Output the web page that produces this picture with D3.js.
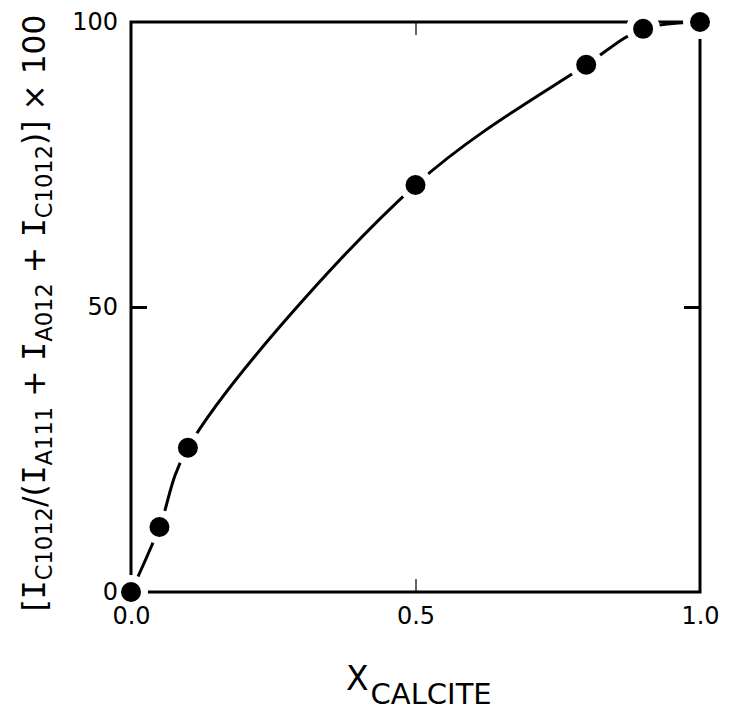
<!DOCTYPE html>
<html>
<head>
<meta charset="utf-8">
<script src="https://cdn.jsdelivr.net/npm/d3@7"></script>
<style>
  body { margin: 0; background: #fff; }
  text { font-family: "DejaVu Sans", sans-serif; fill: #000; }
</style>
</head>
<body>
<script>
(function () {
  "use strict";
  var w = 729,
      h = 717;

  // mole fraction of calcite and relative intensity (%)
  var xCalcite = [0, 0.05, 0.1, 0.5, 0.8, 0.9, 1.0];
  var intensity = [0, 11.4, 25.3, 71.4, 92.5, 98.8, 100];
  var xTicks = [0, 0.5, 1.0];
  var xTickLabels = ["0.0", "0.5", "1.0"];
  var yTicks = [0, 50, 100];
  var yTickLabels = ["0", "50", "100"];

  var left = 131, right = 700, top = 22, bottom = 592;

  var x = d3.scaleLinear().domain([0, 1]).range([left, right]);
  var y = d3.scaleLinear().domain([0, 100]).range([bottom, top]);

  var data = xCalcite.map((d, i) => [d, intensity[i]]);

  var svg = d3.select("body")
              .append("svg")
              .attr("width", w)
              .attr("height", h);

  // frame
  svg.append("rect")
     .attr("x", left)
     .attr("y", top)
     .attr("width", right - left)
     .attr("height", bottom - top)
     .attr("fill", "none")
     .attr("stroke", "#000")
     .attr("stroke-width", 3);

  // curve
  var line = d3.line()
               .x(d => x(d[0]))
               .y(d => y(d[1]))
               .curve(d3.curveCatmullRom.alpha(0.5));
  svg.append("path")
     .datum(data)
     .attr("d", line)
     .attr("fill", "none")
     .attr("stroke", "#000")
     .attr("stroke-width", 3);

  // white gaps round the points
  svg.selectAll("circle.halo")
     .data(data)
     .enter()
     .append("circle")
     .attr("class", "halo")
     .attr("cx", d => x(d[0]))
     .attr("cy", d => y(d[1]))
     .attr("r", 17)
     .attr("fill", "#fff");

  svg.selectAll("circle.dot")
     .data(data)
     .enter()
     .append("circle")
     .attr("class", "dot")
     .attr("cx", d => x(d[0]))
     .attr("cy", d => y(d[1]))
     .attr("r", 10)
     .attr("fill", "#000");

  // axes on top, only the inner ticks that show in the figure
  var xAxis = svg.append("g")
     .attr("transform", "translate(0," + bottom + ")")
     .call(d3.axisBottom(x).tickValues(xTicks)
             .tickFormat((d, i) => xTickLabels[i])
             .tickSize(-13).tickPadding(15));
  var yAxis = svg.append("g")
     .attr("transform", "translate(" + left + ",0)")
     .call(d3.axisLeft(y).tickValues(yTicks)
             .tickFormat((d, i) => yTickLabels[i])
             .tickSize(-16).tickPadding(13));
  var yRight = svg.append("g")
     .attr("transform", "translate(" + right + ",0)")
     .call(d3.axisRight(y).tickValues([50]).tickFormat("").tickSize(-16));
  var xTop = svg.append("g")
     .attr("transform", "translate(0," + top + ")")
     .call(d3.axisTop(x).tickValues([0.5]).tickFormat("").tickSize(-13));

  [xAxis, yAxis, yRight, xTop].forEach(function (g) {
    g.select(".domain").remove();
    g.selectAll("text")
     .attr("font-family", "DejaVu Sans")
     .attr("font-size", 24)
     .attr("fill", "#000");
  });
  xAxis.selectAll(".tick").filter(d => d !== 0.5).select("line").remove();
  yAxis.selectAll(".tick").filter(d => d !== 50).select("line").remove();
  yAxis.selectAll("line").attr("stroke-width", 3);
  yRight.selectAll("line").attr("stroke-width", 3);
  xAxis.selectAll("line").attr("stroke-width", 1.2);
  xTop.selectAll("line").attr("stroke-width", 1.2);

  // x label
  var xl = svg.append("text")
              .attr("x", 346)
              .attr("y", 690);
  xl.append("tspan").attr("font-size", 33).text("X");
  xl.append("tspan").attr("font-size", 29).attr("dx", 2).attr("dy", 14).text("CALCITE");

  // y label
  var mainSize = 36, subSize = 26;
  var parts = [
    ["[", 0], ["I", 0], ["C1012", 1], ["/(", 0], ["I", 0], ["A111", 1],
    [" + ", 0], ["I", 0], ["A012", 1], [" + ", 0], ["I", 0], ["C1012", 1],
    [")]", 0], [" \u00d7 100", 0]
  ];
  var yl = svg.append("text")
              .attr("transform", "translate(45,313) rotate(-90)")
              .attr("text-anchor", "middle")
              .style("white-space", "pre");
  var prevSub = 0;
  parts.forEach(function (p) {
    var t = yl.append("tspan")
              .attr("class", p[1] ? "sub" : "main")
              .attr("dy", (p[1] - prevSub) * 7)
              .text(p[0]);
    if (p[0] === "I") t.attr("font-family", "DejaVu Sans Mono");
    prevSub = p[1];
  });
  function sizeLabel(k) {
    yl.selectAll("tspan.main").attr("font-size", mainSize * k);
    yl.selectAll("tspan.sub").attr("font-size", subSize * k);
  }
  sizeLabel(1);
  var len = yl.node().getComputedTextLength();
  sizeLabel(597 / len);
})();
</script>
</body>
</html>
